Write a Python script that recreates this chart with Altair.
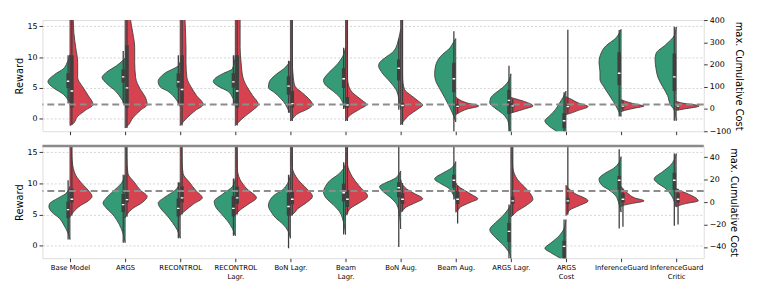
import json
import altair as alt
import pandas as pd

CATS = ["Base Model", "ARGS", "RECONTROL", "RECONTROL Lagr.", "BoN Lagr.", "Beam Lagr.",
        "BoN Aug.", "Beam Aug.", "ARGS Lagr.", "ARGS Cost", "InferenceGuard", "InferenceGuard Critic"]
LABEL_LINES = [["Base Model"], ["ARGS"], ["RECONTROL"], ["RECONTROL", "Lagr."], ["BoN Lagr."],
               ["Beam", "Lagr."], ["BoN Aug."], ["Beam Aug."], ["ARGS Lagr."], ["ARGS", "Cost"],
               ["InferenceGuard"], ["InferenceGuard", "Critic"]]

TOP_REWARD = [
    [(10.4, 0), (9.1, 3), (8.1, 7), (7.2, 16), (6.0, 23), (5.0, 17), (4.0, 7), (3.3, 3), (2.6, 0)],
    [(9.8, 0), (8.6, 9), (7.6, 19), (6.7, 24), (5.7, 19), (4.5, 10), (3.3, 4), (2.2, 0)],
    [(9.2, 0), (8.6, 2), (7.4, 16), (6.7, 21), (6.1, 23), (5.2, 21), (4.5, 13), (3.5, 6), (2.6, 2), (2.0, 0)],
    [(10.3, 0), (8.1, 3), (7.4, 12), (6.7, 20), (6.05, 23), (5.3, 18), (4.5, 8), (3.5, 3), (2.2, 0)],
    [(9.4, 0), (8.1, 7), (7.2, 15), (6.0, 22), (5.1, 23), (4.3, 17), (3.3, 10), (2.3, 5), (1.4, 2), (0.9, 0)],
    [(11.5, 0), (10.1, 3), (8.6, 10), (7.4, 18), (6.2, 23), (5.5, 21), (4.5, 13), (3.5, 6), (2.3, 2), (1.6, 0)],
    [(14.5, 0), (13.0, 2), (11.0, 7), (9.8, 17), (9.1, 22), (8.6, 23), (7.4, 19), (6.0, 11), (4.5, 4), (2.3, 1), (1.5, 0)],
    [(13.0, 0), (12.5, 2), (11.5, 6), (10.1, 16), (8.6, 21), (7.2, 22), (6.2, 21), (4.7, 16), (3.3, 11), (1.8, 6), (0.4, 2), (-0.5, 0)],
    [(7.3, 0), (6.0, 3), (5.0, 9), (4.2, 16), (3.4, 21), (2.6, 22), (1.8, 17), (0.9, 9), (0.0, 4), (-1.0, 2), (-2.0, 1), (-2.5, 0)],
    [(4.5, 0), (3.5, 3), (2.5, 7), (1.5, 11), (0.5, 17), (-0.3, 22), (-1.0, 19), (-2.0, 10), (-3.0, 3), (-3.5, 0)],
    [(14.5, 0), (13.0, 6), (11.8, 16), (10.6, 21), (9.1, 23), (7.6, 22), (6.4, 22), (5.2, 18), (4.0, 13), (2.8, 8), (1.4, 3), (0.4, 0)],
    [(14.9, 0), (13.5, 2), (12.0, 11), (10.6, 21), (9.6, 22), (8.1, 21), (6.7, 19), (5.2, 14), (3.8, 9), (2.3, 6), (1.4, 2), (-0.3, 0)],
]
TOP_COST = [
    [(-74, 0), (-67, 3), (-33, 8), (-6, 16), (20, 24), (61, 19), (101, 13), (141, 8), (209, 8), (276, 6), (343, 4), (450, 3), (520, 2)],
    [(-85, 0), (-74, 3), (-40, 8), (-6, 16), (20, 23), (54, 21), (88, 16), (141, 11), (209, 10), (276, 10), (343, 8), (420, 5), (520, 4)],
    [(-74, 0), (-40, 7), (-6, 16), (20, 24), (61, 17), (101, 11), (141, 7), (209, 6), (277, 6), (400, 5), (520, 4)],
    [(-74, 0), (-40, 8), (-6, 18), (20, 24), (61, 18), (101, 12), (141, 8), (209, 6), (276, 5), (400, 5), (520, 4)],
    [(-54, 0), (-40, 3), (-20, 8), (0, 18), (20, 23), (47, 19), (74, 12), (101, 5), (141, 3), (209, 2), (400, 1.5), (520, 1)],
    [(-54, 0), (-27, 5), (0, 15), (20, 22), (40, 17), (67, 9), (95, 4), (141, 2), (400, 1.5), (520, 1)],
    [(-71, 0), (-54, 3), (-27, 9), (0, 18), (18, 23), (34, 19), (61, 11), (88, 4), (141, 2), (400, 1.5), (520, 1)],
    [(-25, 0), (-20, 2), (0, 12), (14, 24), (27, 12), (47, 2), (55, 0)],
    [(-18, 0), (-13, 4), (0, 14), (14, 23), (34, 14), (47, 4), (52, 0)],
    [(-25, 0), (-20, 4), (-6, 13), (11, 23), (27, 13), (47, 4), (55, 0)],
    [(-12, 0), (-6, 4), (4, 14), (14, 24), (20, 17), (34, 5), (42, 0)],
    [(-6, 0), (0, 8), (14, 24), (27, 6), (35, 0)],
]
BOT_REWARD = [
    [(9.5, 0), (8.3, 5), (7.6, 13), (6.8, 21), (6.3, 22), (5.4, 19), (4.4, 11), (3.5, 7), (2.0, 2), (1.0, 0)],
    [(11.4, 0), (10.0, 4), (8.8, 12), (7.6, 20), (6.85, 23), (6.1, 20), (5.2, 14), (4.2, 9), (2.75, 4), (1.3, 1), (0.5, 0)],
    [(10.2, 0), (8.8, 6), (7.8, 16), (6.85, 23), (5.9, 20), (4.9, 14), (3.7, 8), (2.5, 3), (1.2, 0)],
    [(10.8, 0), (9.5, 3), (8.3, 13), (7.1, 22), (6.1, 20), (5.2, 15), (3.95, 8), (2.75, 3), (1.6, 0)],
    [(11.4, 0), (10.0, 3), (9.0, 8), (8.1, 17), (7.1, 22), (6.4, 23), (5.4, 20), (4.4, 15), (3.5, 8), (2.5, 3), (1.2, 0)],
    [(13.4, 0), (12.4, 2), (11.4, 8), (10.5, 16), (9.5, 21), (8.6, 23), (7.6, 20), (6.6, 13), (5.4, 6), (3.7, 2), (1.8, 0)],
    [(12.0, 0), (10.7, 7), (10.0, 17), (9.5, 22), (8.8, 19), (7.8, 11), (6.6, 4), (4.7, 1), (2.7, 0)],
    [(13.5, 0), (12.4, 5), (11.7, 13), (10.7, 22), (10.0, 16), (9.3, 8), (8.3, 3), (7.4, 0)],
    [(6.6, 0), (5.6, 4), (4.7, 9), (3.7, 16), (2.6, 22), (1.3, 16), (0.3, 9), (-0.6, 4), (-1.3, 1), (-2.2, 0)],
    [(4.2, 0), (2.75, 2), (1.3, 9), (0.3, 17), (-0.4, 22), (-1.1, 16), (-2.0, 6), (-2.6, 0)],
    [(14.3, 0), (13.4, 2), (12.4, 8), (11.7, 16), (10.7, 23), (9.7, 20), (9.0, 13), (8.1, 6), (6.6, 2), (5.4, 0)],
    [(14.8, 0), (13.8, 2), (12.9, 6), (11.9, 14), (10.7, 23), (10.0, 19), (9.3, 12), (8.3, 6), (7.1, 2), (6.2, 0)],
]
BOT_COST = [
    [(-13, 0), (-8.4, 4), (-3, 11), (1.1, 19), (5.1, 23), (10.6, 19), (16, 13), (24, 6), (32, 3), (45, 1.5), (60, 1)],
    [(-14, 0), (-11, 2), (-5.6, 8), (-0.3, 18), (5.1, 23), (10.6, 16), (17.3, 10), (25.4, 3), (40, 1.5), (60, 1)],
    [(-11.5, 0), (-7, 6), (-1.6, 14), (3.8, 23), (10.6, 16), (17.3, 10), (25.4, 3), (40, 1.5), (60, 1)],
    [(-11.5, 0), (-7, 5), (-1.6, 14), (3.8, 22), (11.9, 12), (20, 5), (30, 2), (45, 1.5), (60, 1)],
    [(-12, 0), (-11, 2), (-5.6, 8), (-0.3, 17), (5.1, 23), (11.9, 17), (20, 8), (30.8, 2), (45, 1.5), (60, 1)],
    [(-12, 0), (-11, 1), (-5.6, 5), (-0.3, 15), (5.1, 23), (14.6, 14), (22.7, 7), (33.5, 2), (45, 1), (60, 0.5)],
    [(-9, 0), (-8.4, 1), (-4.3, 6), (-0.3, 16), (3.0, 23), (7.8, 14), (11.9, 6), (17.3, 1), (20, 0)],
    [(-9, 0), (-8.4, 1), (-4.3, 5), (-0.3, 15), (3.0, 23), (6.5, 17), (10.6, 9), (14.6, 2), (17, 0)],
    [(-13, 0), (-12.4, 1), (-8.4, 6), (-3, 16), (2.5, 23), (11.9, 16), (20, 7), (30.8, 2), (45, 1), (60, 0.5)],
    [(-12, 0), (-11, 1), (-7, 4), (-3, 14), (1.1, 23), (7.8, 9), (11.9, 3), (15, 0)],
    [(-4, 0), (-3, 2), (-1.1, 12), (1.1, 24), (3.8, 14), (7.8, 7), (11.9, 2), (14, 0)],
    [(-4, 0), (-3, 3), (-1.1, 11), (1.1, 23), (7.8, 11), (10.6, 3), (12, 0)],
]

TOP_REWARD_BOX = [(2.5, 5.0, 6.1, 7.4, 10.3), (2.5, 5.9, 6.8, 8.0, 11.0), (2.2, 5.1, 6.0, 7.4, 10.3),
                  (2.2, 5.1, 6.0, 7.4, 10.3), (1.0, 3.9, 5.3, 6.9, 9.4), (1.6, 5.0, 6.5, 8.2, 11.5),
                  (1.5, 6.2, 8.2, 9.6, 13.0), (-2.5, 4.3, 6.5, 9.1, 14.2), (-2.5, 0.8, 3.0, 4.7, 8.6),
                  (-3.0, -1.5, -0.3, 0.9, 4.3), (0.4, 5.5, 7.4, 10.8, 14.4), (-0.3, 4.5, 6.8, 10.6, 14.9)]
TOP_COST_BOX = [(-70, 7, 81, 242, 600), (-85, 7, 95, 287, 600), (-74, 14, 88, 242, 600),
                (-74, 7, 81, 242, 600), (-54, 7, 24, 81, 600), (-54, 7, 18, 54, 600),
                (-71, 7, 16, 27, 600), (-20, 7, 12, 23, 45), (-15, 7, 14, 27, 45),
                (-20, 2, 11, 22, 357), (-8, 6, 13, 24, 40), (-5, 6, 13, 22, 30)]
BOT_REWARD_BOX = [(1.0, 4.4, 5.8, 7.1, 10.5), (0.5, 5.4, 6.6, 8.3, 11.4), (1.2, 4.7, 6.0, 7.6, 10.2),
                  (1.6, 4.7, 6.0, 8.0, 10.8), (-0.4, 4.8, 6.3, 8.5, 11.4), (1.8, 7.1, 8.5, 10.0, 13.4),
                  (-0.2, 7.8, 9.3, 10.2, 16.5), (7.4, 9.3, 10.5, 11.4, 16.5), (-2.5, 0.6, 2.3, 3.7, 6.6),
                  (-3.0, -2.5, -0.1, 0.8, 4.2), (2.75, 9.0, 10.5, 11.2, 15.5), (3.2, 9.0, 10.5, 11.7, 14.8)]
BOT_COST_BOX = [(-12, -0.3, 2.5, 12, 60), (-13, -0.3, 2.2, 9.7, 60), (-11, -0.3, 3.8, 14, 60),
                (-11, -1.6, 3.8, 14, 60), (-12, -2, 2.5, 9, 60), (-11, -4.3, 2.5, 10.6, 60),
                (-8.4, -1.6, 2.5, 7.8, 17), (-19, -1.6, 2.5, 9.7, 15), (-12, -1.6, 1.1, 5.1, 60),
                (-11, -1.6, 1.1, 3.8, 60), (-22, -0.3, 2.5, 7.8, 12), (-20, -0.3, 2.5, 7.8, 12)]

TOP_THRESHOLD = 20
BOT_THRESHOLD = 10

GREEN = "#359b76"
RED = "#d6424f"
EDGE = "#3f3f3f"
FONT = "DejaVu Sans"
W = 672
DENS_SCALE = 0.4 / 23.0


def violin_df(profiles, side):
    rows = []
    for i, prof in enumerate(profiles):
        for v, d in sorted(prof):
            half = d * DENS_SCALE
            if side < 0:
                rows.append({"i": i, "v": v, "xl": i - half, "xr": i})
            else:
                rows.append({"i": i, "v": v, "xl": i, "xr": i + half})
    return pd.DataFrame(rows)


def box_df(boxes, side):
    rows = []
    for i, (lo, q1, med, q3, hi) in enumerate(boxes):
        s = side
        rows.append({"i": i, "lo": lo, "q1": q1, "med": med, "q3": q3, "hi": hi,
                     "b1": i + s * 0.003, "b2": i + s * 0.066, "wx": i + s * 0.034,
                     "m1": i + s * 0.010, "m2": i + s * 0.058})
    return pd.DataFrame(rows)


def panel(rw_prof, c_prof, rw_box, c_box, c_dom, c_ticks, thresh, h, show_labels, top_bar):
    xs = alt.Scale(domain=[-0.5, 11.5], nice=False, zero=False)
    label_expr = json.dumps(LABEL_LINES) + "[round(datum.value)]"
    xaxis = alt.Axis(values=list(range(12)), labels=show_labels, labelExpr=label_expr, title=None,
                     grid=False, ticks=True, tickSize=3.5, tickColor="black", tickWidth=0.8,
                     labelFontSize=7, labelFont=FONT, labelColor="black", labelOverlap=False,
                     labelFlush=False, labelPadding=2, domain=False, labelLineHeight=9)

    def X(f):
        return alt.X(f, scale=xs, axis=xaxis)

    rs = alt.Scale(domain=[-2, 16], nice=False, zero=False)
    raxis = alt.Axis(values=[0, 5, 10, 15], title="Reward", grid=True, gridDash=[2, 2],
                     gridColor="#c8c8c8", gridWidth=0.8, tickSize=3.5, tickColor="black",
                     tickWidth=0.8, labelFontSize=8, labelFont=FONT, labelColor="black",
                     titleFont=FONT, titleFontSize=10, titleFontWeight="normal", titleColor="black",
                     titlePadding=3, labelPadding=2, domain=False)
    cs = alt.Scale(domain=c_dom, nice=False, zero=False)
    caxis = alt.Axis(values=c_ticks, orient="right", title="max. Cumulative Cost", grid=False,
                     tickSize=3.5, tickColor="black", tickWidth=0.8, labelFontSize=8, labelFont=FONT,
                     labelColor="black", labelExpr="replace(datum.label, '-', '\u2212')",
                     titleFont=FONT, titleFontSize=10, titleFontWeight="normal", titleColor="black",
                     titlePadding=3, labelPadding=2, domain=False)

    def group(prof, boxes, side, scale, axis, color):
        vd = violin_df(prof, side)
        bd = box_df(boxes, side)
        area = alt.Chart(vd).mark_area(orient="horizontal", interpolate="monotone", clip=True,
                                       color=color, opacity=1, stroke=EDGE, strokeWidth=0.9).encode(
            x=alt.X("xl:Q", scale=xs, axis=xaxis, stack=None), x2="xr:Q",
            y=alt.Y("v:Q", scale=scale, axis=axis), detail="i:N")
        whisk = alt.Chart(bd).mark_rule(color=EDGE, strokeWidth=1.3, clip=True).encode(
            x=X("wx:Q"), y=alt.Y("lo:Q", scale=scale, axis=axis), y2="hi:Q")
        box = alt.Chart(bd).mark_rect(color=EDGE, clip=True).encode(
            x=X("b1:Q"), x2="b2:Q", y=alt.Y("q1:Q", scale=scale, axis=axis), y2="q3:Q")
        med = alt.Chart(bd).mark_rule(color="white", strokeWidth=1.4, clip=True).encode(
            x=X("m1:Q"), x2="m2:Q", y=alt.Y("med:Q", scale=scale, axis=axis))
        return [area, whisk, box, med]

    g_layers = group(rw_prof, rw_box, -1, rs, raxis, GREEN)
    r_layers = group(c_prof, c_box, 1, cs, caxis, RED)
    th = alt.Chart(pd.DataFrame({"t": [thresh]})).mark_rule(
        color="#8c8c8c", strokeWidth=2, strokeDash=[7, 4]).encode(
        y=alt.Y("t:Q", scale=cs, axis=caxis))
    r_layers.append(th)
    if top_bar:
        bar = alt.Chart(pd.DataFrame({"a": [0]})).mark_rule(color="#8a8a8a", strokeWidth=2.5).encode(
            y=alt.value(0), x=alt.value(0), x2=alt.value(W))
        r_layers.append(bar)
    green = alt.layer(*g_layers)
    red = alt.layer(*r_layers)
    return alt.layer(green, red).resolve_scale(y="independent").properties(width=W, height=h)


top = panel(TOP_REWARD, TOP_COST, TOP_REWARD_BOX, TOP_COST_BOX, [-100, 400],
            [-100, 0, 100, 200, 300, 400], TOP_THRESHOLD, 113, False, False)
bottom = panel(BOT_REWARD, BOT_COST, BOT_REWARD_BOX, BOT_COST_BOX, [-50, 50],
               [-40, -20, 0, 20, 40], BOT_THRESHOLD, 114, True, True)

chart = alt.vconcat(top, bottom, spacing=8).configure_view(
    stroke="black", strokeWidth=0.9).configure(font=FONT, background="white")

chart.save("out.html", embed_options={"renderer": "svg", "actions": False})
